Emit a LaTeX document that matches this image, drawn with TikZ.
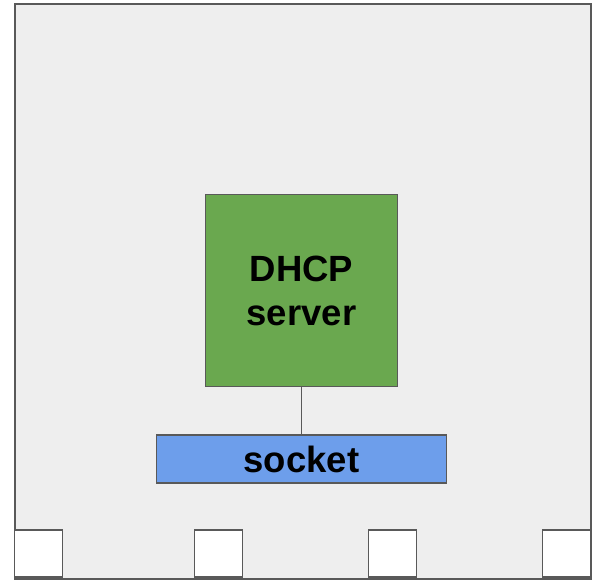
\documentclass[tikz,border=0pt]{standalone}
\usepackage{fontspec}
\setmainfont{Liberation Sans}
\usepackage{tikz}

\definecolor{hostgray}{HTML}{EEEEEE}
\definecolor{edgegray}{HTML}{595959}
\definecolor{srvgreen}{HTML}{6AA84F}
\definecolor{sockblue}{HTML}{6D9EEB}

\begin{document}
\begin{tikzpicture}[x=1pt,y=-1pt,
  box/.style={draw=edgegray,line width=1.6pt,inner sep=0pt},
  port/.style={box,fill=white,minimum width=48pt,minimum height=47pt,anchor=south west},
  lbl/.style={font=\fontsize{36.5}{44}\selectfont\bfseries,align=center}]
\useasboundingbox (0,0) rectangle (598,580);
\node[box,line width=2.2pt,fill=hostgray,minimum width=576pt,minimum height=575pt,
  anchor=north west] (host) at (13.5,3) {};
\foreach \x [count=\i] in {13.5,193.5,367.5,541.5}
  \node[port] (port\i) at (\x,578) {};
\node[box,lbl,fill=srvgreen,minimum size=192pt] (dhcp) at (301.5,290.7) {DHCP\\server};
\node[box,lbl,fill=sockblue,minimum width=290pt,minimum height=48pt] (sock) at (301.5,459) {socket};
\draw[edgegray,line width=1.3pt] (dhcp) -- (sock);
\end{tikzpicture}
\end{document}
